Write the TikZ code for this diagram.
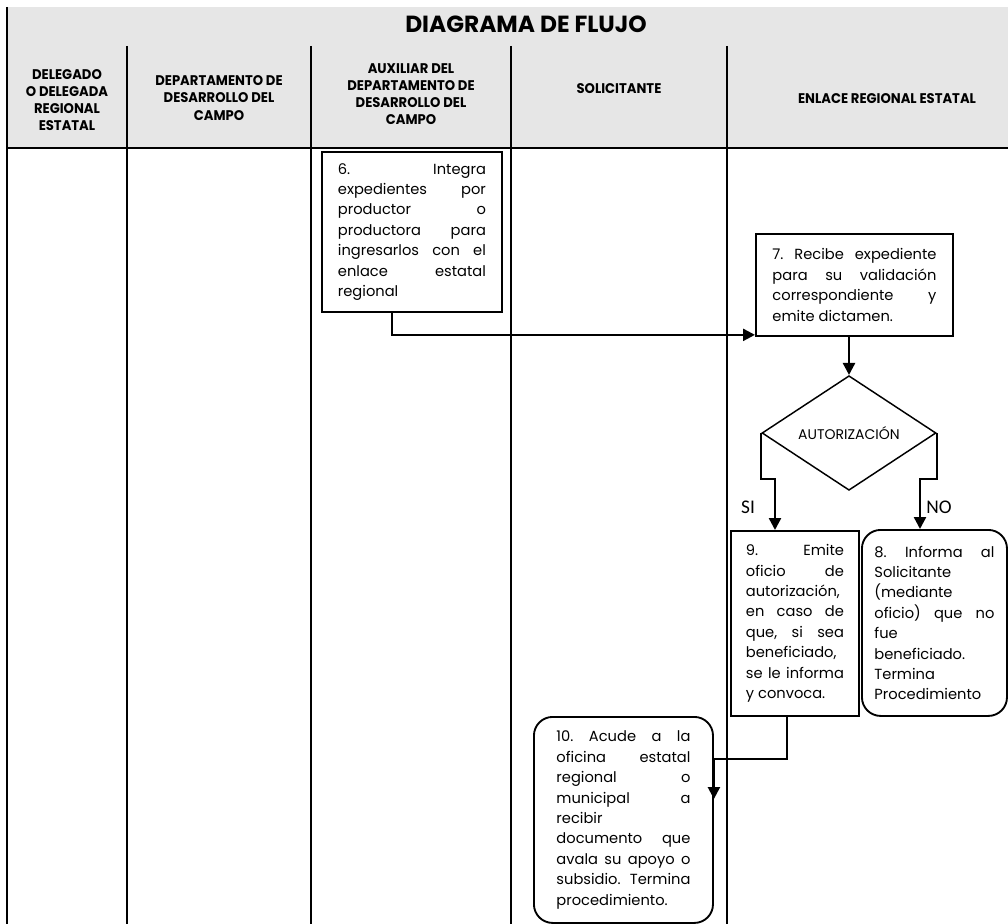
\documentclass[tikz,border=0pt]{standalone}
\usepackage{fontspec}
\setmainfont{Poppins}
\newfontfamily\headfont[FakeStretch=0.94]{Poppins}
\newfontfamily\sinofont{Carlito}
\usetikzlibrary{positioning,shapes.geometric,arrows.meta,calc}
\definecolor{headgray}{RGB}{230,230,230}
\tolerance=10000
\hyphenpenalty=10000
\frenchspacing

\begin{document}
\begin{tikzpicture}[x=0.75pt, y=-0.75pt,
    lane/.style={line width=1.1pt},
    paso/.style={draw, line width=1.4pt, anchor=north west, align=justify, inner ysep=0pt,
      font=\fontsize{11}{15.3}\selectfont},
    fin/.style={paso, rounded corners=14pt},
    head/.style={font=\headfont\bfseries\fontsize{10.5}{12.8}\selectfont, align=center},
    flow/.style={line width=1.8pt, -{Triangle[length=9pt, width=9pt]}}]
    \useasboundingbox (0,0) rectangle (1008,924);
    % Header band and lanes
    \fill[headgray] (7,7) rectangle (1008,148);
    \draw[lane] (7,7) -- (7,924);
    \draw[lane] (7,148) -- (1008,148);
    \foreach \x in {127,311,511,727}
        \draw[lane] (\x,46) -- (\x,924);
    \node[font=\bfseries\fontsize{17.5}{20}\selectfont] (title) at (526,24) {DIAGRAMA DE FLUJO};
    \node[head] (h1) at (67,100) {DELEGADO\\O DELEGADA\\REGIONAL\\ESTATAL};
    \node[head] (h2) at (219,98) {DEPARTAMENTO DE\\DESARROLLO DEL\\CAMPO};
    \node[head] (h3) at (411,94) {AUXILIAR DEL\\DEPARTAMENTO DE\\DESARROLLO DEL\\CAMPO};
    \node[head] (h4) at (619,89) {SOLICITANTE};
    \node[head] (h5) at (887,99) {ENLACE REGIONAL ESTATAL};
    % Steps
    \node[paso, text width=111pt, inner xsep=12pt, minimum height=120pt] (p6) at (321,151)
        {6. Integra\linebreak expedientes por\linebreak productor o\linebreak productora para\linebreak ingresarlos con el\linebreak enlace estatal\linebreak regional};
    \node[paso, text width=123pt, inner xsep=12.4pt, minimum height=76.5pt] (p7) at (755,233)
        {7. Recibe expediente\linebreak para su validación\linebreak correspondiente y\linebreak emite dictamen.};
    \node[draw, diamond, line width=1.1pt, minimum width=130.5pt, minimum height=84pt, inner sep=0pt,
        font=\fontsize{10.5}{12}\selectfont] (dia) at (849,433) {AUTORIZACIÓN};
    \node[paso, text width=73.5pt, inner xsep=11.25pt, minimum height=138.75pt] (p9) at (730,530)
        {9. Emite\linebreak oficio de\linebreak autorización,\linebreak en caso de\linebreak que, si sea\linebreak beneficiado,\linebreak se le informa\linebreak y convoca.};
    \node[fin, text width=90pt, inner xsep=9.4pt, minimum height=139.5pt] (p8) at (861,529)
        {8. Informa al\linebreak Solicitante\linebreak (mediante\linebreak oficio) que no\linebreak fue\linebreak beneficiado.\linebreak Termina\linebreak Procedimiento};
    \node[fin, text width=100.5pt, inner xsep=16.9pt, minimum height=154.5pt] (p10) at (533,716)
        {10. Acude a la\linebreak oficina estatal\linebreak regional o\linebreak municipal a\linebreak recibir\linebreak documento que\linebreak avala su apoyo o\linebreak subsidio. Termina\linebreak procedimiento.};
    % Branch labels
    \node[font=\sinofont\fontsize{14.5}{14}\selectfont] (si) at (748,507) {SI};
    \node[font=\sinofont\fontsize{14.5}{14}\selectfont] (no) at (939,507) {NO};
    % Connectors
    \coordinate (c7) at ($(p7.south west)+(0,-2)$);
    \draw[flow] ($(p6.south west)+(71,0)$) |- (c7);
    \draw[flow] (p7.south -| dia.north) -- (dia.north);
    \draw[flow] (dia.west) -- ++(0,46) -| ($(p9.north west)+(45,0)$);
    \draw[flow] (dia.east) -- ++(0,46) -| ($(p8.north west)+(59,0)$);
    \coordinate (t10) at ($(p10.north east)+(0,83)$);
    \draw[flow] ($(p9.south west)+(57,0)$) -- ++(0,42) -| (t10);
\end{tikzpicture}
\end{document}
